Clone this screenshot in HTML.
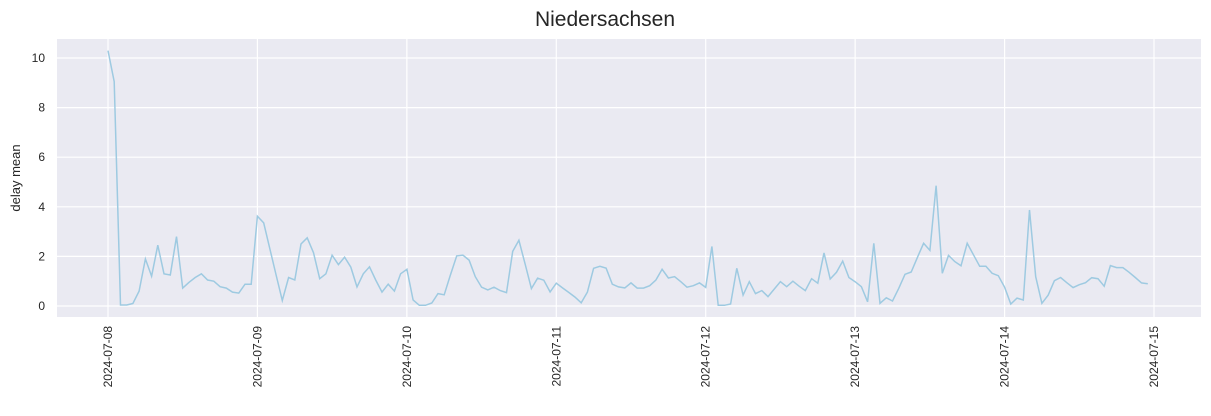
<!DOCTYPE html>
<html><head><meta charset="utf-8"><style>
body{margin:0;background:#fff;font-family:"Liberation Sans","DejaVu Sans",sans-serif;}
</style></head><body>
<svg id="chart" width="1211" height="411" xmlns="http://www.w3.org/2000/svg">
<text x="605" y="26" text-anchor="middle" font-size="21" fill="#262626">Niedersachsen</text>
<rect x="57" y="39" width="1144" height="278" fill="#eaeaf2"/>
<g id="grid"></g>
<g id="series"></g>
<text transform="translate(20,178) rotate(-90)" text-anchor="middle" font-size="13" fill="#262626">delay mean</text>
</svg>
<script>
const dayLabels = ["2024-07-08","2024-07-09","2024-07-10","2024-07-11","2024-07-12","2024-07-13","2024-07-14","2024-07-15"];
const yTicks = [0,2,4,6,8,10];
const delayMean = [
10.3,9.05,0.04,0.04,0.1,0.6,1.9,1.2,2.45,1.3,1.25,2.8,0.72,0.95,1.15,1.3,1.05,1.0,0.78,0.72,0.56,0.52,0.88,0.88,
3.62,3.35,2.3,1.25,0.22,1.15,1.05,2.5,2.75,2.15,1.1,1.3,2.05,1.67,1.97,1.57,0.77,1.3,1.58,1.05,0.56,0.88,0.6,1.3,
1.48,0.24,0.03,0.03,0.12,0.5,0.45,1.25,2.02,2.05,1.85,1.18,0.76,0.65,0.76,0.62,0.54,2.2,2.65,1.68,0.7,1.12,1.04,0.57,
0.92,0.73,0.55,0.36,0.13,0.56,1.52,1.6,1.53,0.88,0.77,0.73,0.93,0.72,0.72,0.82,1.05,1.48,1.13,1.18,0.98,0.76,0.82,0.93,
0.75,2.4,0.03,0.03,0.08,1.52,0.44,0.98,0.5,0.62,0.38,0.68,0.98,0.78,1.0,0.8,0.62,1.1,0.92,2.14,1.09,1.36,1.81,1.15,
0.98,0.78,0.17,2.53,0.11,0.33,0.2,0.71,1.28,1.37,1.96,2.53,2.24,4.85,1.32,2.04,1.79,1.62,2.53,2.07,1.6,1.6,1.32,1.22,
0.76,0.08,0.32,0.24,3.87,1.18,0.11,0.44,1.02,1.15,0.94,0.74,0.86,0.94,1.14,1.1,0.8,1.63,1.55,1.55,1.36,1.15,0.93,0.9
];
const NS="http://www.w3.org/2000/svg";
const xScale = h => 108 + h*(1046/168);
const yScale = v => 306 - v*24.8;
const grid=document.getElementById('grid'), series=document.getElementById('series'), svg=document.getElementById('chart');
yTicks.forEach(t=>{
  const l=document.createElementNS(NS,'line');
  l.setAttribute('x1',57);l.setAttribute('x2',1201);l.setAttribute('y1',yScale(t));l.setAttribute('y2',yScale(t));
  l.setAttribute('stroke','#fff');l.setAttribute('stroke-width','1.2');
  
  
  grid.appendChild(l);
  const tx=document.createElementNS(NS,'text');
  tx.setAttribute('x',45);tx.setAttribute('y',yScale(t)+4);tx.setAttribute('text-anchor','end');
  tx.setAttribute('font-size','12');tx.setAttribute('fill','#262626');tx.textContent=t;
  
  
  svg.appendChild(tx);
});
dayLabels.forEach((d,i)=>{
  const x=xScale(i*24);
  const l=document.createElementNS(NS,'line');
  l.setAttribute('x1',x);l.setAttribute('x2',x);l.setAttribute('y1',39);l.setAttribute('y2',317);
  l.setAttribute('stroke','#fff');l.setAttribute('stroke-width','1.2');
  
  
  grid.appendChild(l);
  const tx=document.createElementNS(NS,'text');
  tx.setAttribute('transform','translate('+(x+4)+',326) rotate(-90)');
  tx.setAttribute('text-anchor','end');
  tx.setAttribute('font-size','12');tx.setAttribute('fill','#262626');tx.textContent=d;
  
  
  svg.appendChild(tx);
});
const p=document.createElementNS(NS,'polyline');
p.setAttribute('points',delayMean.map((v,i)=>xScale(i).toFixed(1)+','+yScale(v).toFixed(1)).join(' '));
p.setAttribute('fill','none');p.setAttribute('stroke','#9ecae1');p.setAttribute('stroke-width','1.5');


series.appendChild(p);
</script>
</body></html>
